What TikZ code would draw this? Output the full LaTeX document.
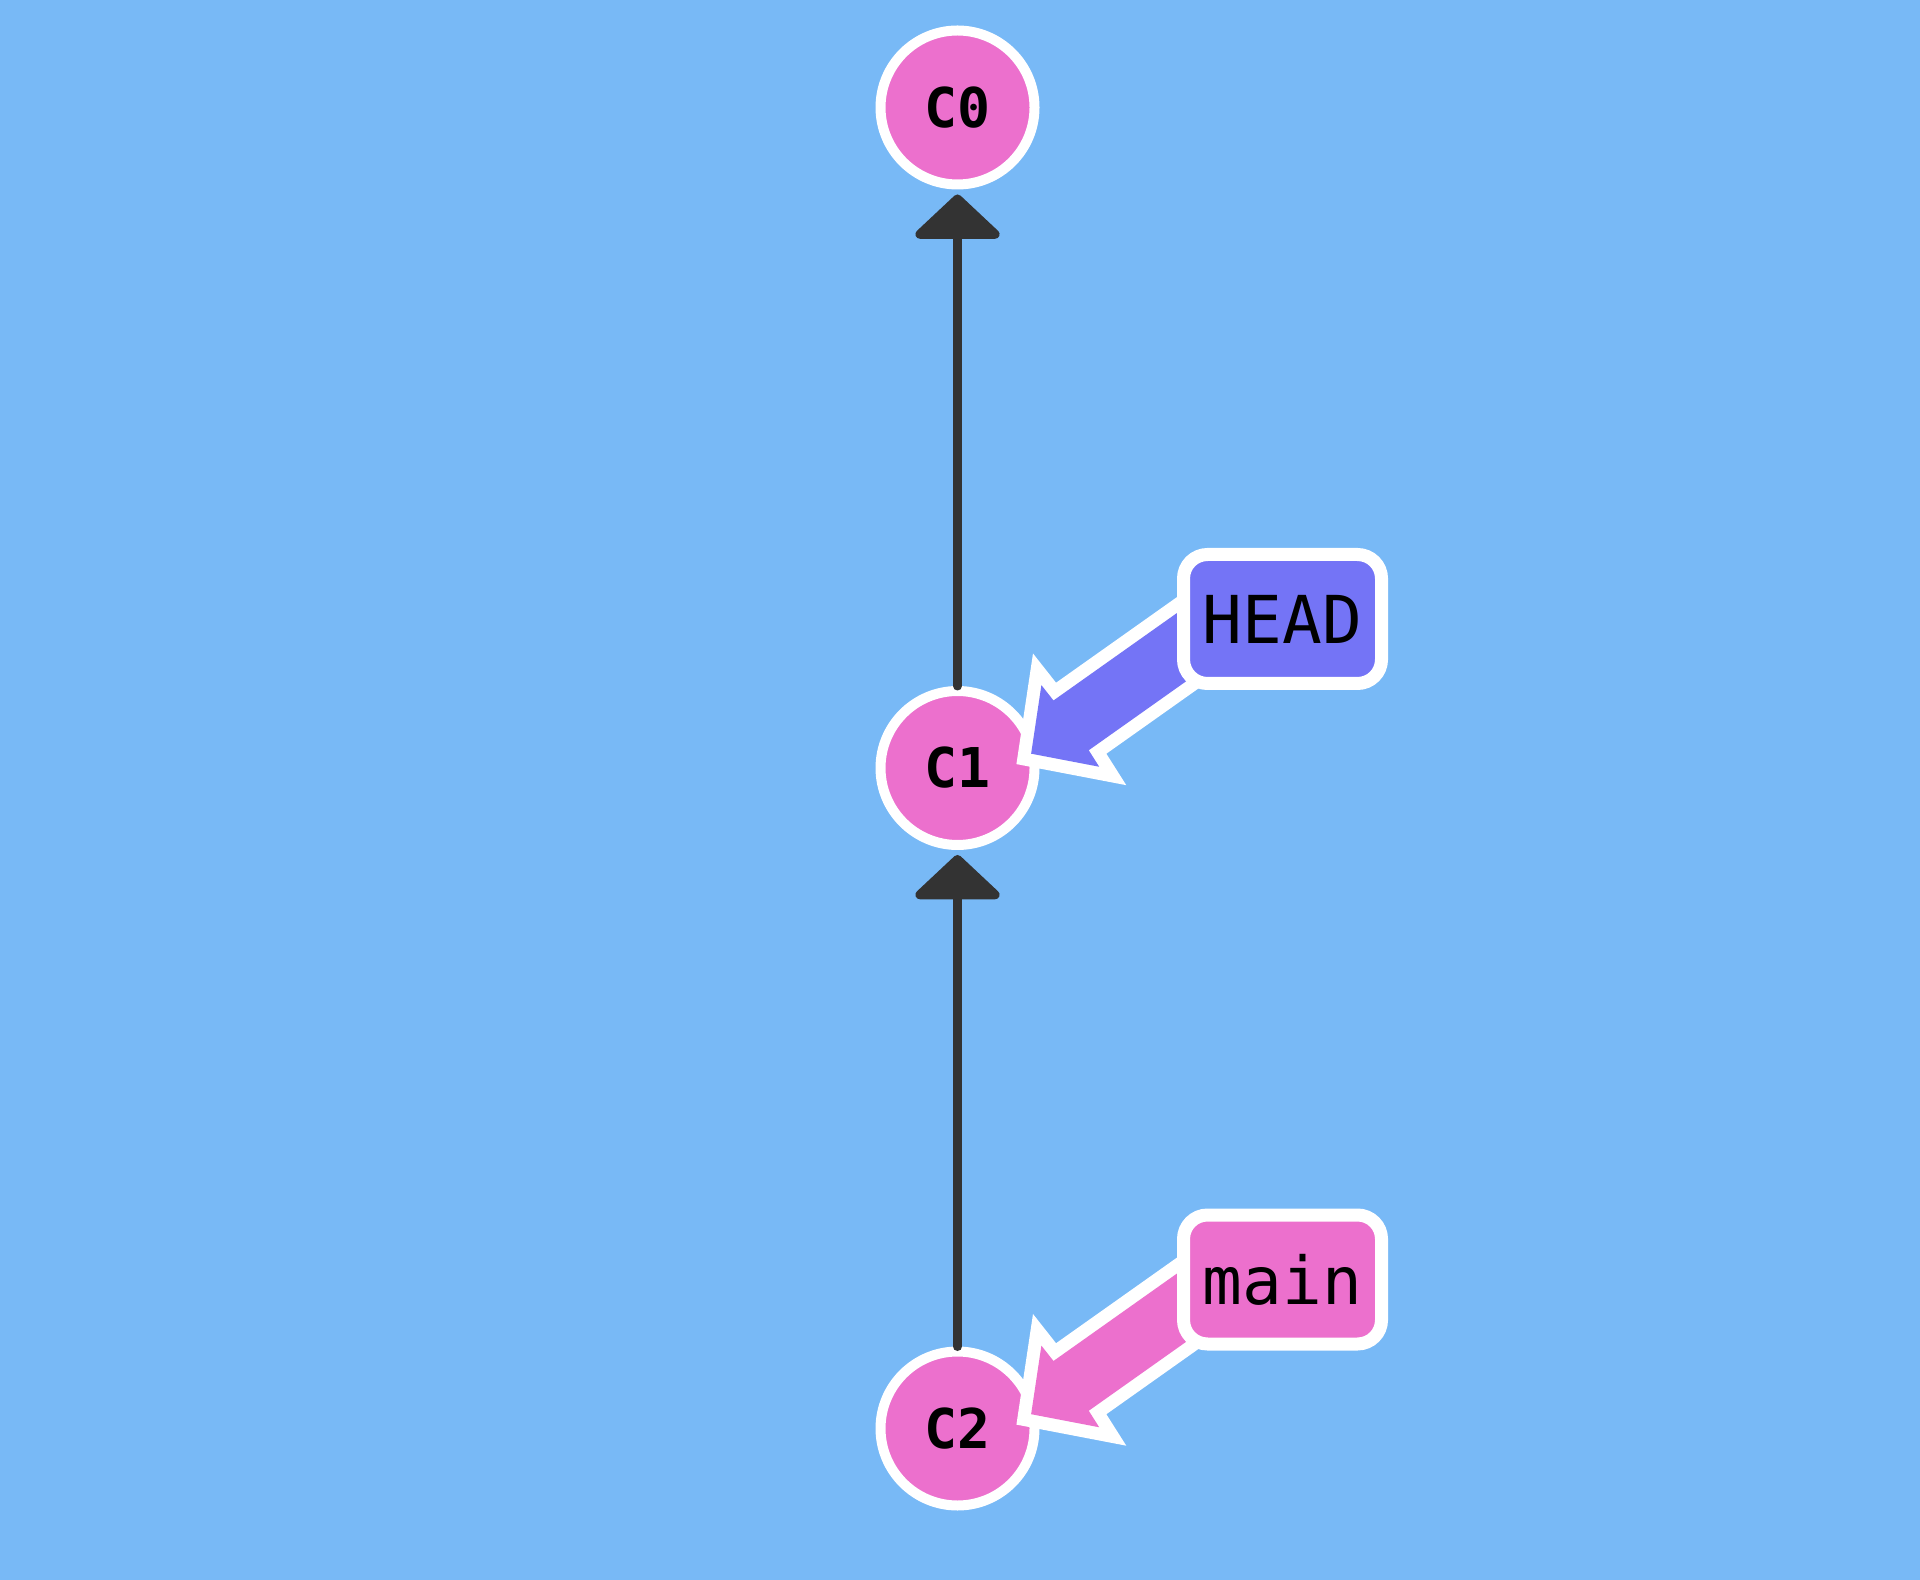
\documentclass[tikz,border=0pt]{standalone}
\usepackage{fontspec}
\setmonofont{DejaVu Sans Mono}
\usetikzlibrary{arrows.meta,calc}

\definecolor{bgblue}{HTML}{78B9F6}
\definecolor{commitpink}{HTML}{EC70CD}
\definecolor{headblue}{HTML}{7474F6}
\definecolor{edgegray}{HTML}{333333}

\pgfdeclarelayer{front}
\pgfsetlayers{main,front}

\tikzset{
  commit/.style={circle, draw=white, line width=1mm, fill=commitpink,
    minimum size=1.54cm, inner sep=0pt,
    font=\ttfamily\bfseries\fontsize{15.6}{16}\selectfont},
  branch/.style={rounded corners=0.24cm, draw=white, line width=1.3mm,
    minimum width=1.98cm, minimum height=1.29cm, inner sep=0pt,
    font=\ttfamily\fontsize{18.8}{20}\selectfont},
  parent/.style={edgegray, line width=0.9mm, shorten >=0.05cm,
    -{Triangle[length=0.46cm, width=0.96cm, round]}},
  refarrow/.style={preaction={draw=white, line width=2.6mm, line join=miter}},
}

% fat arrow: tip, tail, colour
\newcommand{\fatarrow}[3]{%
  \path[refarrow, fill=#3] (#1)
    -- ($(#1)!0.48cm!(#2)!0.50cm!90:(#2)$)
    -- ($(#1)!0.49cm!(#2)!0.305cm!90:(#2)$)
    -- ($(#2)!0.305cm!-90:(#1)$)
    -- ($(#2)!0.305cm!90:(#1)$)
    -- ($(#1)!0.49cm!(#2)!0.305cm!-90:(#2)$)
    -- ($(#1)!0.48cm!(#2)!0.50cm!-90:(#2)$)
    -- cycle;}

\begin{document}
\begin{tikzpicture}[line cap=round, line join=round]
  \useasboundingbox (0,0) rectangle (19.2,-15.8);
  \fill[bgblue] (0,0) rectangle (19.2,-15.8);

  % commits
  \node[commit] (C0) at (9.575,-1.075) {C0};
  \node[commit] (C1) at (9.575,-7.68) {C1};
  \node[commit] (C2) at (9.575,-14.285) {C2};

  % branches
  \begin{pgfonlayer}{front}
    \node[branch, fill=headblue] (HEAD) at (12.825,-6.19) {HEAD};
    \node[branch, fill=commitpink] (main) at (12.825,-12.795) {main};
  \end{pgfonlayer}

  % parent links
  \draw[parent] (C1) -- (C0);
  \draw[parent] (C2) -- (C1);

  % refs
  \coordinate (headtip) at ($(C1)+(11:0.75)$);
  \coordinate (headtail) at ($(HEAD.west)+(0.33,-0.08)$);
  \coordinate (maintip) at ($(C2)+(11:0.75)$);
  \coordinate (maintail) at ($(main.west)+(0.33,-0.08)$);
  \fatarrow{headtip}{headtail}{headblue}
  \fatarrow{maintip}{maintail}{commitpink}
\end{tikzpicture}
\end{document}
